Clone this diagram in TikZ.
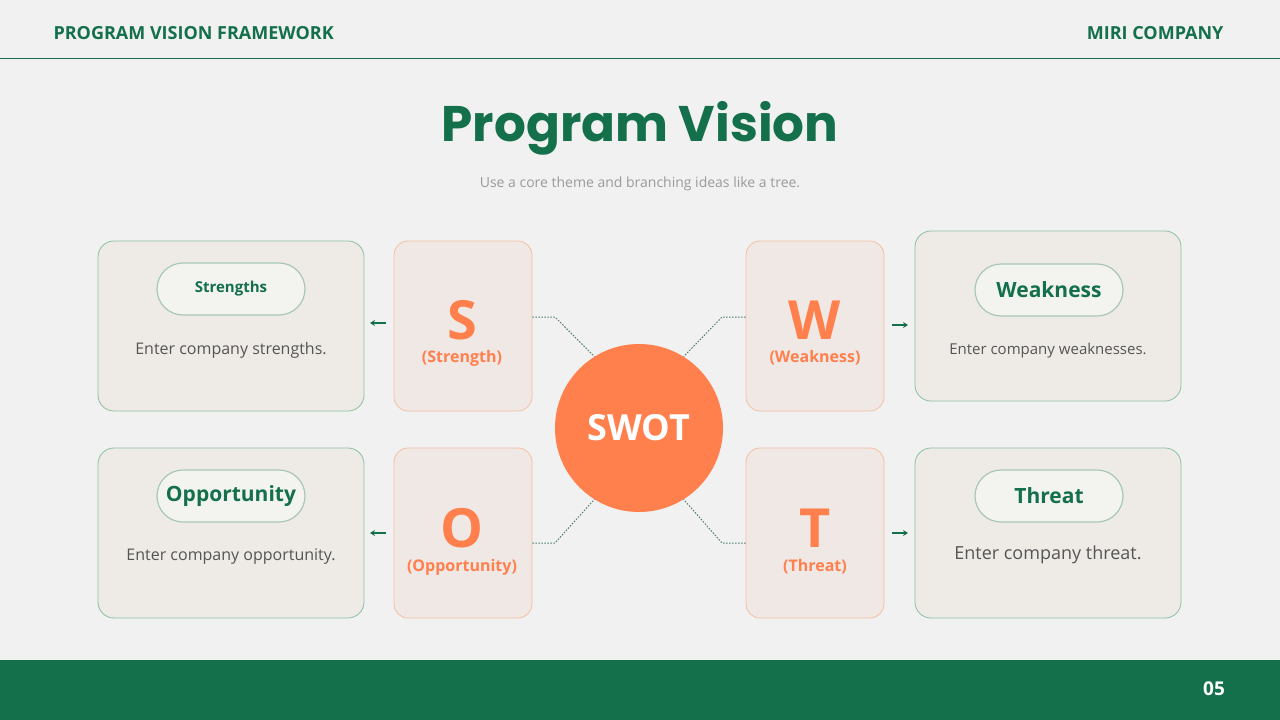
\documentclass[tikz,border=0pt]{standalone}
\usepackage{fontspec}
\setmainfont{Open Sans}
\newfontfamily\popp{Poppins}
\usetikzlibrary{arrows.meta}
\definecolor{gr}{HTML}{13704A}
\definecolor{bg}{HTML}{F1F1F1}
\definecolor{or}{HTML}{FF7F4D}
\definecolor{cardf}{HTML}{EEEBE6}
\definecolor{cardb}{HTML}{8DBFA0}
\definecolor{letf}{HTML}{EFE8E4}
\definecolor{letb}{HTML}{F5C0A2}
\definecolor{pillf}{HTML}{F3F3F0}
\definecolor{pillb}{HTML}{A8C8B5}
\definecolor{txt}{HTML}{555555}
\definecolor{sub}{HTML}{9A9A9A}
\definecolor{dot}{HTML}{4F7F75}
\tikzset{
 card/.style={draw=cardb,fill=cardf,line width=0.8pt,rounded corners=16pt,minimum width=266pt,minimum height=170pt},
 letbox/.style={draw=letb,fill=letf,line width=0.8pt,rounded corners=14pt,minimum width=138pt,minimum height=170pt},
 pill/.style={draw=pillb,fill=pillf,line width=1.2pt,rounded corners=26pt,minimum width=148pt,minimum height=52pt,text=gr,font=\fontsize{21}{24}\selectfont\bfseries},
 body/.style={text=txt,font=\fontsize{16}{19}\selectfont},
 letter/.style={text=or,font=\fontsize{54}{60}\selectfont\bfseries},
 letsub/.style={text=or,font=\fontsize{16}{19}\selectfont\bfseries},
 conn/.style={draw=dot,dash pattern=on 1.5pt off 1.5pt,line width=1pt},
 arr/.style={draw=gr,line width=1.3pt,-{Stealth[length=5pt,width=6pt]}}
}
\begin{document}
\begin{tikzpicture}[x=1pt,y=-1pt]
\fill[bg] (0,0) rectangle (1280,720);
\useasboundingbox (0,0) rectangle (1280,720);
\fill[gr] (0,660) rectangle (1280,720);
\draw[gr,line width=0.8pt] (0,58) -- (1280,58);
\node[anchor=west,text=gr,font=\fontsize{18}{20}\selectfont\bfseries] (hl) at (50,33) {PROGRAM VISION FRAMEWORK};
\node[anchor=east,text=gr,font=\fontsize{18}{20}\selectfont\bfseries] (hr) at (1227,33) {MIRI COMPANY};
\node[text=gr,font=\popp\fontsize{50}{56}\selectfont\bfseries] (title) at (640,128) {Program Vision};
\node[text=sub,font=\fontsize{14}{16}\selectfont] (subt) at (640,184) {Use a core theme and branching ideas like a tree.};
\node[text=white,font=\fontsize{19}{22}\selectfont\bfseries] (pg) at (1214,689) {05};

\node[card] (cs) at (231,326) {};
\node[card] (co) at (231,533) {};
\node[card] (cw) at (1048,316) {};
\node[card] (ct) at (1048,533) {};
\node[letbox] (ls) at (463,326) {};
\node[letbox] (lo) at (463,533) {};
\node[letbox] (lw) at (815,326) {};
\node[letbox] (lt) at (815,533) {};

\node[pill,font=\fontsize{15}{18}\selectfont\bfseries] (ps) at (231,289) {Strengths};
\node[pill] (pw) at (1049,290) {Weakness};
\node[pill] (po) at (231,496) {Opportunity};
\node[pill] (pt) at (1049,496) {Threat};
\node[body] (bs) at (231,350) {Enter company strengths.};
\node[body,font=\fontsize{15}{18}\selectfont] (bw) at (1048,351) {Enter company weaknesses.};
\node[body] (bo) at (231,557) {Enter company opportunity.};
\node[body,font=\fontsize{18}{21}\selectfont] (bt) at (1048,555) {Enter company threat.};

\node[letter] (s) at (462,320) {S};
\node[letsub] (ss) at (462,358) {(Strength)};
\node[letter] (w) at (815,320) {W};
\node[letsub] (ws) at (815,358) {(Weakness)};
\node[letter] (o) at (462,528) {O};
\node[letsub] (os) at (462,567) {(Opportunity)};
\node[letter] (t) at (815,528) {T};
\node[letsub] (ts) at (815,567) {(Threat)};

\node[circle,fill=or,minimum size=168pt,inner sep=0,text=white,font=\fontsize{36}{40}\selectfont\bfseries] (c) at (639,428) {SWOT};

\draw[conn] (ls.east |- 0,317) -- (555,317) -- (c.122);
\draw[conn] (lw.west |- 0,317) -- (722,317) -- (c.58);
\draw[conn] (lo.east |- 0,543) -- (555,543) -- (c.238);
\draw[conn] (lt.west |- 0,543) -- (722,543) -- (c.302);

\coordinate (a1) at (386,323); \coordinate (a1e) at (370,323);
\coordinate (a2) at (386,533); \coordinate (a2e) at (370,533);
\coordinate (a3) at (892,325); \coordinate (a3e) at (908,325);
\coordinate (a4) at (892,533); \coordinate (a4e) at (908,533);
\draw[arr] (a1) -- (a1e);
\draw[arr] (a2) -- (a2e);
\draw[arr] (a3) -- (a3e);
\draw[arr] (a4) -- (a4e);
\end{tikzpicture}
\end{document}
